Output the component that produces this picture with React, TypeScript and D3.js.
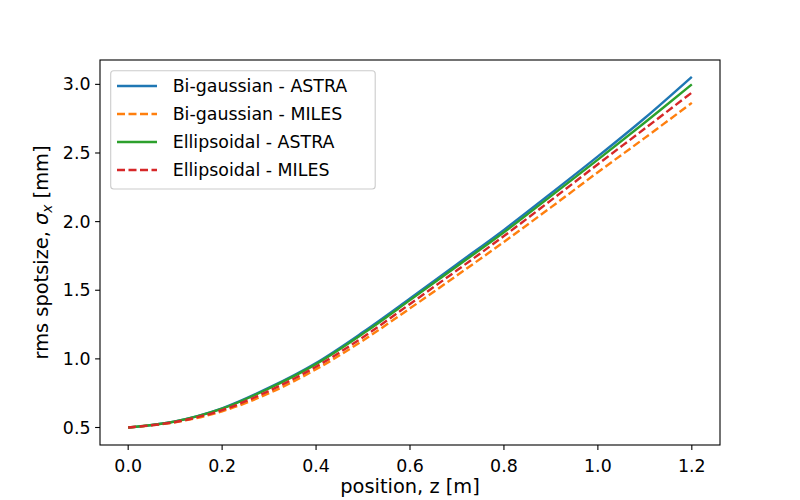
import React from 'react';
import * as d3 from 'd3';

// positions along the beamline [m]
const zPos = [0, 0.1, 0.2, 0.3, 0.4, 0.5, 0.6, 0.7, 0.8, 0.9, 1.0, 1.1, 1.2];

// rms spot size [mm]
const biGaussAstra = [0.5, 0.545, 0.64, 0.79, 0.97, 1.195, 1.44, 1.69, 1.94, 2.205, 2.475, 2.755, 3.055];
const biGaussMiles = [0.5, 0.538, 0.618, 0.75, 0.924, 1.134, 1.368, 1.608, 1.852, 2.104, 2.36, 2.61, 2.865];
const ellipAstra = [0.5, 0.544, 0.637, 0.785, 0.962, 1.184, 1.428, 1.675, 1.922, 2.186, 2.452, 2.722, 3.0];
const ellipMiles = [0.5, 0.54, 0.627, 0.767, 0.943, 1.158, 1.4, 1.645, 1.895, 2.155, 2.418, 2.678, 2.94];

const xTicks = [0.0, 0.2, 0.4, 0.6, 0.8, 1.0, 1.2];
const yTicks = [0.5, 1.0, 1.5, 2.0, 2.5, 3.0];

const series = [
  { name: 'Bi-gaussian - ASTRA', values: biGaussAstra, color: '#1f77b4', dashed: false },
  { name: 'Bi-gaussian - MILES', values: biGaussMiles, color: '#ff7f0e', dashed: true },
  { name: 'Ellipsoidal - ASTRA', values: ellipAstra, color: '#2ca02c', dashed: false },
  { name: 'Ellipsoidal - MILES', values: ellipMiles, color: '#d62728', dashed: true },
];

const width = 800;
const height = 500;
const margin = { top: 60, right: 80, bottom: 55, left: 100 };
const font = 'DejaVu Sans, sans-serif';
const fs = 17.4;      // ticks and legend
const labelFs = 19.4; // axis labels
const lw = 2.4;
const dash = '8 3.5';

export default function App() {
  const x = d3.scaleLinear()
    .domain([-0.06, 1.26])
    .range([margin.left, width - margin.right]);

  const y = d3.scaleLinear()
    .domain([0.3725, 3.1775])
    .range([height - margin.bottom, margin.top]);

  const line = d3.line<number>()
    .x((d, i) => x(zPos[i]))
    .y(d => y(d))
    .curve(d3.curveCatmullRom.alpha(0.5));

  const bottom = height - margin.bottom;
  const left = margin.left;

  // legend box
  const lg = { x: 110.7, y: 70.7, w: 264.5, h: 118.3 };

  return (
    <div style={{ position: 'absolute', left: 0, top: 0 }}>
      <svg width={width} height={height} style={{ display: 'block', background: '#fff' }} fontFamily={font}>
        <rect width={width} height={height} fill="#fff" />

        {series.map(s => (
          <path
            key={s.name}
            d={line(s.values) || ''}
            fill="none"
            stroke={s.color}
            strokeWidth={lw}
            strokeDasharray={s.dashed ? dash : undefined}
          />
        ))}

        {/* axes frame */}
        <rect
          x={left}
          y={margin.top}
          width={width - margin.left - margin.right}
          height={height - margin.top - margin.bottom}
          fill="none"
          stroke="#000"
          strokeWidth={1.1}
        />

        {/* x ticks */}
        {xTicks.map(t => (
          <g key={'x' + t} transform={`translate(${x(t)},${bottom})`}>
            <line y2={4.9} stroke="#000" strokeWidth={1.1} />
            <text y={27} textAnchor="middle" fontSize={fs} fill="#000">{t.toFixed(1)}</text>
          </g>
        ))}

        {/* y ticks */}
        {yTicks.map(t => (
          <g key={'y' + t} transform={`translate(${left},${y(t)})`}>
            <line x2={-4.9} stroke="#000" strokeWidth={1.1} />
            <text x={-9.5} dy="0.35em" textAnchor="end" fontSize={fs} fill="#000">{t.toFixed(1)}</text>
          </g>
        ))}

        <text x={(left + width - margin.right) / 2} y={493} textAnchor="middle" fontSize={labelFs} fill="#000">
          position, z [m]
        </text>

        <text
          transform={`translate(48,${(margin.top + bottom) / 2}) rotate(-90)`}
          textAnchor="middle"
          fontSize={labelFs}
          fill="#000"
        >
          rms spotsize, <tspan fontStyle="italic">σ</tspan>
          <tspan fontStyle="italic" fontSize={labelFs * 0.7} dy={4}>x</tspan>
          <tspan dy={-4}> [mm]</tspan>
        </text>

        {/* legend */}
        <rect x={lg.x} y={lg.y} width={lg.w} height={lg.h} rx={3} fill="#fff" fillOpacity={0.8} stroke="#cccccc" strokeWidth={1.1} />
        {series.map((s, i) => {
          const cy = 86 + i * 28;
          return (
            <g key={'lg' + s.name}>
              <line
                x1={117}
                x2={157}
                y1={cy}
                y2={cy}
                stroke={s.color}
                strokeWidth={lw}
                strokeDasharray={s.dashed ? dash : undefined}
              />
              <text x={172.7} y={cy} dy="0.35em" fontSize={fs} fill="#000">{s.name}</text>
            </g>
          );
        })}
      </svg>
    </div>
  );
}
